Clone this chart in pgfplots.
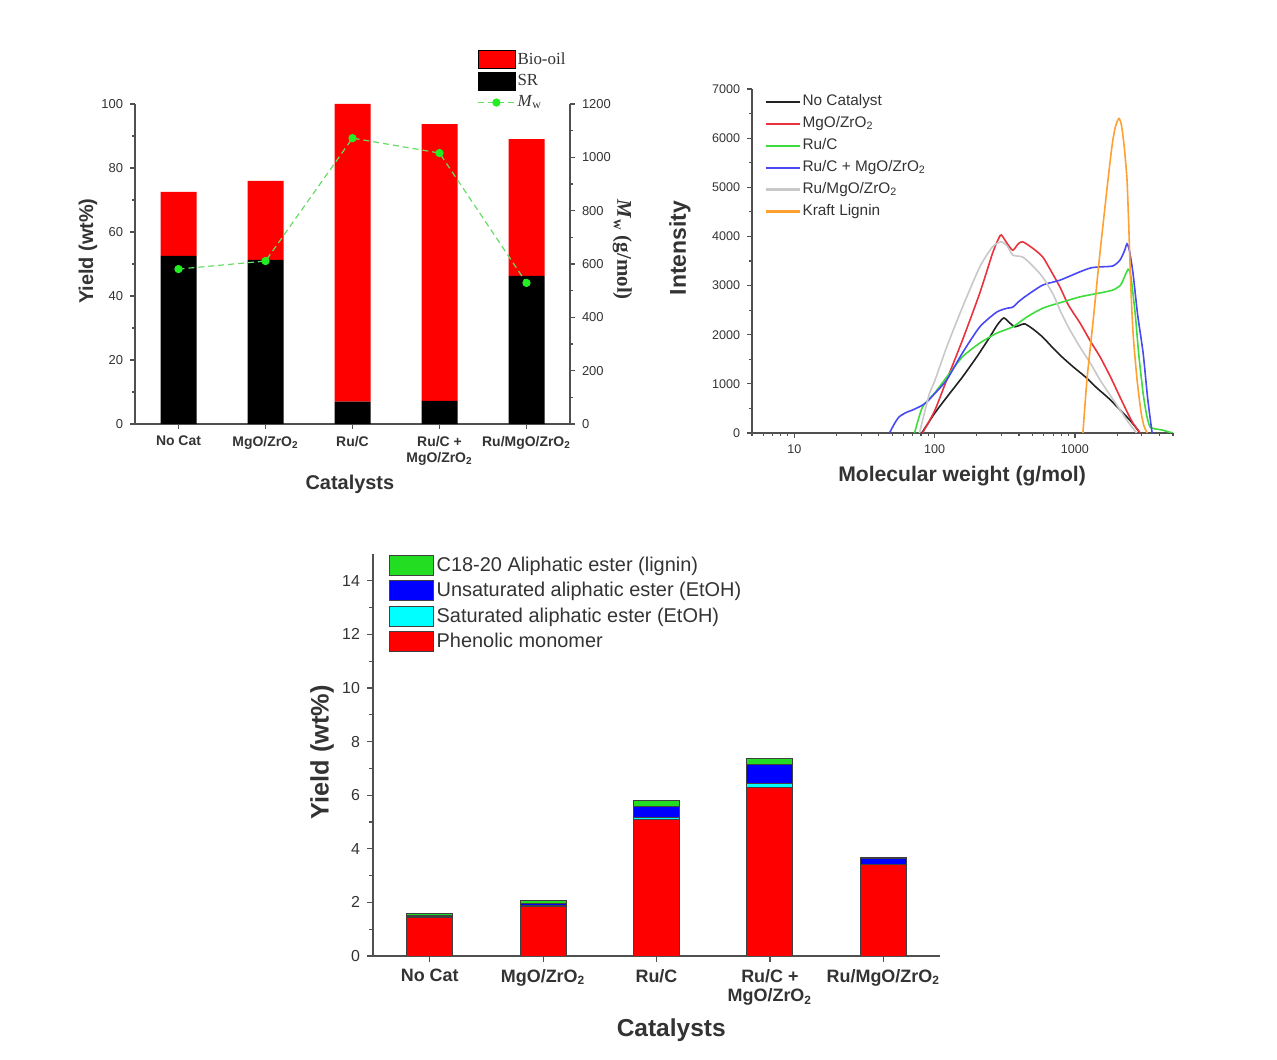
\documentclass[border=0pt]{standalone}
\usepackage{fontspec}
\setmainfont{Liberation Sans}
\newfontfamily\timesfont{Liberation Serif}
\usepackage{pgfplots}
\pgfplotsset{compat=1.18}
\definecolor{axgray}{HTML}{505050}
\definecolor{tickgray}{HTML}{333333}
\definecolor{mwline}{HTML}{66DD66}
\definecolor{mwdot}{HTML}{22EE22}
\definecolor{cBlack}{HTML}{222222}
\definecolor{cRed}{HTML}{E8323C}
\definecolor{cGreen}{HTML}{3DDC3D}
\definecolor{cBlue}{HTML}{4848F4}
\definecolor{cGray}{HTML}{C8C8C8}
\definecolor{cOrange}{HTML}{FFA030}
\definecolor{bRed}{HTML}{FF0000}
\definecolor{bCyan}{HTML}{00FFFF}
\definecolor{bBlue}{HTML}{0000FF}
\definecolor{bGreen}{HTML}{22DD22}
\definecolor{bBorder}{HTML}{404040}
\pgfplotsset{
  origin/.style={
    scale only axis, anchor=south west,
    axis line style={axgray, line width=0.6bp, -},
    tick style={axgray, line width=0.6bp},
    tick align=outside,
    /pgf/number format/assume math mode=true,
    /pgf/number format/1000 sep={},
  },
  box3/.style={legend image code/.code={\draw[##1] (0bp,-5bp) rectangle (22bp,5bp);}},
  box1/.style={legend image code/.code={\fill[##1] (0bp,-4.5bp) rectangle (18.5bp,4.5bp);}},
  mwlegend/.style={legend image code/.code={\draw[mark repeat=2,mark phase=2,##1] plot coordinates {(0bp,0bp) (9.25bp,0bp) (18.5bp,0bp)};}},
  linelegend/.style={legend image code/.code={\draw[##1, line width=1.1bp] (0bp,0bp) -- (17bp,0bp);}},
}
\begin{document}
\begin{tikzpicture}
\path (0,0) rectangle (638.5bp,530bp);

% ---------------- Panel 1: bars ----------------
\begin{axis}[origin,
  at={(67.5bp,318bp)}, width=217.5bp, height=160bp,
  xmin=-0.5, xmax=4.5, ymin=0, ymax=100,
  axis x line*=bottom, axis y line*=left,
  ybar stacked, bar width=18bp,
  xtick={0,1,2,3,4},
  xticklabels={No Cat, MgO/ZrO\textsubscript{2}, Ru/C, {Ru/C +\\MgO/ZrO\textsubscript{2}}, Ru/MgO/ZrO\textsubscript{2}},
  xticklabel style={font=\bfseries\fontsize{7}{8}\selectfont, align=center, color=tickgray},
  ytick={0,20,...,100}, minor y tick num=1,
  major tick length=2.5bp, minor tick length=1.5bp,
  yticklabel style={font=\fontsize{6.5}{7}\selectfont, color=tickgray},
  xlabel={Catalysts}, ylabel={Yield (wt\%)},
  xlabel style={at={(axis description cs:0.494,-0.19)}, anchor=center, font=\bfseries\fontsize{10}{12}\selectfont, color=tickgray},
  ylabel style={at={(axis description cs:-0.108,0.54)}, anchor=center, font=\bfseries\fontsize{10}{12}\selectfont, color=tickgray},
]
\addplot[fill=black, draw=none] coordinates {(0,52.5) (1,51.3) (2,7.0) (3,7.2) (4,46.3)};
\addplot[fill=bRed, draw=none] coordinates {(0,20.0) (1,24.7) (2,93.0) (3,86.5) (4,42.7)};
\end{axis}

% ---------------- Panel 1: Mw ----------------
\begin{axis}[origin,
  at={(67.5bp,318bp)}, width=217.5bp, height=160bp,
  xmin=-0.5, xmax=4.5, ymin=0, ymax=1200,
  axis x line=none, axis y line*=right,
  ytick={0,200,...,1200}, minor y tick num=1,
  major tick length=2.5bp, minor tick length=1.5bp,
  yticklabel style={font=\fontsize{6.5}{7}\selectfont, color=tickgray},
  ylabel={\textit{M}\textsubscript{w} (g/mol)},
  ylabel style={at={(axis description cs:1.12,0.544)}, anchor=center, rotate=180, font=\timesfont\bfseries\fontsize{10.5}{12}\selectfont, color=tickgray},
  legend style={at={(axis description cs:0.786,1.169)}, anchor=north west, draw=none, fill=none,
    font=\timesfont\fontsize{8.5}{9.5}\selectfont, text=tickgray, inner sep=0pt, row sep=1.4bp,
    nodes={inner sep=1bp}},
  legend cell align=left,
]
\addlegendimage{box1, fill=bRed}
\addlegendentry{Bio-oil}
\addlegendimage{box1, fill=black}
\addlegendentry{SR}
\addplot[densely dashed, color=mwline, line width=0.6bp, mark=*, mark size=1.75bp,
  mark options={solid, fill=mwdot, draw=mwdot}, mwlegend]
  coordinates {(0,581) (1,611) (2,1072) (3,1016) (4,529)};
\addlegendentry{\textit{M}\textsubscript{w}}
\end{axis}

% ---------------- Panel 2: GPC ----------------
\begin{axis}[origin,
  at={(376bp,313.5bp)}, width=210.5bp, height=172bp,
  xmode=log, xmin=5, xmax=5000, ymin=0, ymax=7000,
  axis x line*=bottom, axis y line*=left,
  xtick={10,100,1000}, xticklabels={10,100,1000},
  minor xtick={5,6,7,8,9,20,30,40,50,60,70,80,90,200,300,400,500,600,700,800,900,2000,3000,4000,5000},
  ytick={0,1000,...,7000}, minor y tick num=1,
  major tick length=2.5bp, minor tick length=1.5bp,
  ticklabel style={font=\fontsize{6.3}{7}\selectfont, color=tickgray},
  xlabel={Molecular weight (g/mol)}, ylabel={Intensity},
  xlabel style={at={(axis description cs:0.499,-0.125)}, anchor=center, font=\bfseries\fontsize{10.6}{12}\selectfont, color=tickgray},
  ylabel style={at={(axis description cs:-0.171,0.538)}, anchor=center, font=\bfseries\fontsize{11.5}{12}\selectfont, color=tickgray},
  legend style={at={(axis description cs:0.0285,0.99)}, anchor=north west, draw=none, fill=none,
    font=\fontsize{7.7}{8.5}\selectfont, text=tickgray, inner sep=0pt, row sep=1.9bp,
    nodes={inner sep=1bp}},
  legend cell align=left,
  linelegend,
  every axis plot/.append style={line width=0.8bp, smooth, tension=0.4},
]
\addplot[cBlack] coordinates {
(81,0) (90,200) (100,400) (120,700) (158,1140) (200,1550) (247,1950) (280,2200) (311,2340)
(340,2250) (373,2160) (410,2200) (440,2220) (500,2120) (590,1950) (697,1730) (800,1560)
(968,1350) (1200,1130) (1435,915) (1750,700) (2096,470) (2500,240) (2912,0)};
\addlegendentry{No Catalyst}
\addplot[cRed] coordinates {
(82,0) (100,450) (122,1080) (158,1890) (210,2850) (259,3660) (285,3950) (299,4030)
(330,3850) (361,3720) (395,3850) (425,3890) (500,3760) (590,3580) (690,3250) (782,2970)
(900,2600) (1086,2240) (1300,1850) (1510,1550) (1800,1130) (2096,730) (2400,380) (2594,200) (2912,0)};
\addlegendentry{MgO/ZrO\textsubscript{2}}
\addplot[cGreen] coordinates {
(72,0) (82,530) (100,810) (122,1140) (158,1550) (210,1830) (277,2030) (361,2160) (454,2360)
(590,2540) (782,2650) (1086,2770) (1510,2850) (1867,2910) (2100,3000) (2203,3110) (2394,3330)
(2500,3200) (2685,2440) (2850,1600) (3061,810) (3250,350) (3436,120) (3800,80) (4200,60) (4540,30) (5000,0)};
\addlegendentry{Ru/C}
\addplot[cBlue] coordinates {
(47.7,0) (52,200) (56,330) (63,420) (70,470) (80,550) (88,630) (100,800) (122,1080) (158,1630)
(210,2160) (277,2460) (330,2540) (361,2560) (400,2680) (454,2800) (590,3010) (782,3110)
(1086,3280) (1300,3360) (1510,3380) (1867,3400) (2096,3520) (2250,3700) (2351,3850) (2450,3700)
(2594,3250) (2800,2400) (3061,1630) (3300,700) (3548,0)};
\addlegendentry{Ru/C + MgO/ZrO\textsubscript{2}}
\addplot[cGray] coordinates {
(78,0) (92,810) (100,1050) (122,1750) (158,2560) (210,3380) (259,3790) (299,3890) (330,3800)
(361,3620) (425,3580) (500,3400) (590,3170) (700,2820) (782,2500) (900,2150) (1086,1750)
(1300,1400) (1510,1080) (1800,750) (2096,470) (2400,220) (2750,0)};
\addlegendentry{Ru/MgO/ZrO\textsubscript{2}}
\addplot[cOrange] coordinates {
(1140,0) (1218,1080) (1350,2300) (1500,3600) (1720,5150) (1850,5900) (1950,6250) (2063,6400)
(2150,6250) (2250,5800) (2350,5150) (2420,4200) (2500,3000) (2600,2000) (2773,1080) (2950,450)
(3100,150) (3268,0)};
\addlegendentry{Kraft Lignin}
\end{axis}

% ---------------- Panel 3: monomers ----------------
\begin{axis}[origin,
  at={(186.5bp,52bp)}, width=283.5bp, height=201bp,
  xmin=-0.5, xmax=4.5, ymin=0, ymax=15,
  axis x line*=bottom, axis y line*=left,
  ybar stacked, bar width=23bp,
  xtick={0,1,2,3,4},
  xticklabels={No Cat, MgO/ZrO\textsubscript{2}, Ru/C, {Ru/C +\\MgO/ZrO\textsubscript{2}}, Ru/MgO/ZrO\textsubscript{2}},
  xticklabel style={font=\bfseries\fontsize{9}{10}\selectfont, align=center, color=tickgray},
  ytick={0,2,...,14}, minor y tick num=1,
  major tick length=3bp, minor tick length=1.8bp,
  yticklabel style={font=\fontsize{8}{9}\selectfont, color=tickgray},
  xlabel={Catalysts}, ylabel={Yield (wt\%)},
  xlabel style={at={(axis description cs:0.526,-0.184)}, anchor=center, font=\bfseries\fontsize{12.3}{14}\selectfont, color=tickgray},
  ylabel style={at={(axis description cs:-0.09,0.507)}, anchor=center, font=\bfseries\fontsize{12.7}{14}\selectfont, color=tickgray},
  legend style={at={(axis description cs:0.028,1.0)}, anchor=north west, draw=none, fill=none,
    font=\fontsize{10}{11}\selectfont, text=tickgray, inner sep=0pt, row sep=1.6bp,
    nodes={inner sep=1.2bp}},
  legend cell align=left, reverse legend,
]
\addplot[fill=bRed, draw=bBorder, line width=0.5bp, box3] coordinates {(0,1.45) (1,1.85) (2,5.10) (3,6.30) (4,3.40)};
\addlegendentry{Phenolic monomer}
\addplot[fill=bCyan, draw=bBorder, line width=0.5bp, box3] coordinates {(0,0.02) (1,0.02) (2,0.08) (3,0.12) (4,0.02)};
\addlegendentry{Saturated aliphatic ester (EtOH)}
\addplot[fill=bBlue, draw=bBorder, line width=0.5bp, box3] coordinates {(0,0.05) (1,0.10) (2,0.40) (3,0.73) (4,0.23)};
\addlegendentry{Unsaturated aliphatic ester (EtOH)}
\addplot[fill=bGreen, draw=bBorder, line width=0.5bp, box3] coordinates {(0,0.06) (1,0.10) (2,0.22) (3,0.22) (4,0.03)};
\addlegendentry{C18-20 Aliphatic ester (lignin)}
\end{axis}
\end{tikzpicture}
\end{document}
